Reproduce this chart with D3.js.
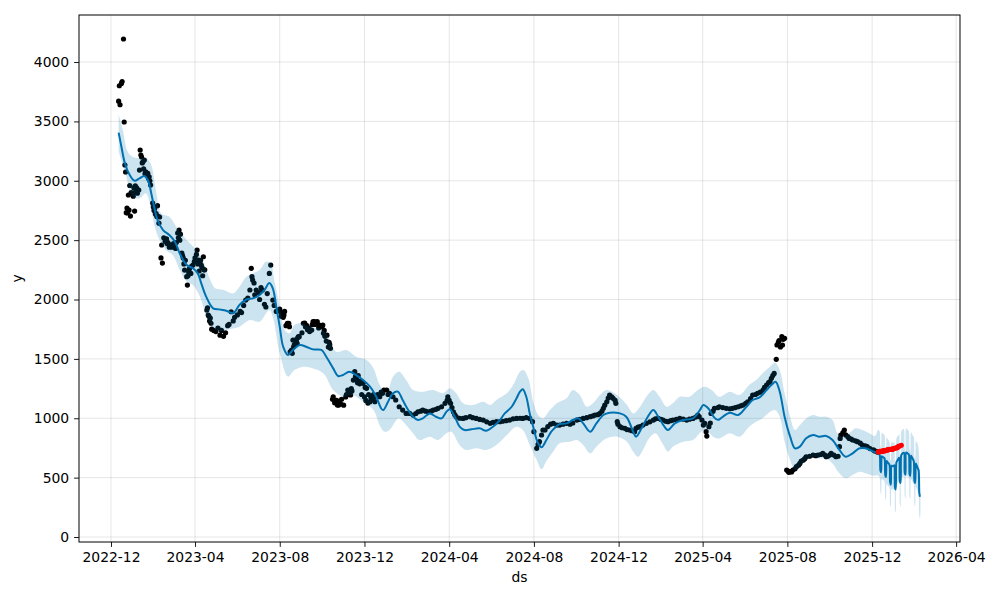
<!DOCTYPE html>
<html>
<head>
<meta charset="utf-8">
<script src="https://cdn.jsdelivr.net/npm/d3@7"></script>
<style>
  html, body { margin: 0; padding: 0; background: #fff; }
  svg { display: block; font-family: "DejaVu Sans", sans-serif; }
</style>
</head>
<body>
<svg id="chart" width="1000" height="600"></svg>
<script>
// ---------------- DATA ----------------
const yTicks = [0, 500, 1000, 1500, 2000, 2500, 3000, 3500, 4000];
const xTickLabels = ["2022-12", "2023-04", "2023-08", "2023-12", "2024-04", "2024-08",
                     "2024-12", "2025-04", "2025-08", "2025-12", "2026-04"];

// observed history (black dots)
const observed = [
["2022-12-12",3670],["2022-12-13",3800],["2022-12-14",3640],["2022-12-16",3820],["2022-12-17",3835],
["2022-12-19",4194],["2022-12-20",3495],["2022-12-21",3133],["2022-12-22",3074],["2022-12-23",2731],
["2022-12-24",2770],["2022-12-26",2880],["2022-12-27",2754],["2022-12-29",2703],["2023-01-01",2894],
["2023-01-02",2870],["2023-01-04",2745],["2023-01-05",2958],["2023-01-07",2940],["2023-01-10",2922],
["2023-01-11",3090],["2023-01-12",3259],["2023-01-13",3217],["2023-01-16",3160],["2023-01-18",3175],
["2023-01-20",3076],["2023-01-23",3062],["2023-01-25",3034],["2023-01-27",2964],["2023-01-30",2812],
["2023-02-02",2770],["2023-02-04",2723],["2023-02-06",2790],["2023-02-07",2700],["2023-02-08",2643],
["2023-02-11",2350],["2023-02-12",2459],["2023-02-13",2307],["2023-02-15",2520],["2023-02-17",2490],
["2023-02-20",2470],["2023-02-23",2440],["2023-02-26",2455],["2023-03-02",2450],["2023-03-04",2430],
["2023-03-07",2560],["2023-03-09",2585],["2023-03-10",2500],["2023-03-13",2391],["2023-03-15",2350],
["2023-03-17",2248],["2023-03-20",2192],["2023-03-21",2122],["2023-03-23",2230],["2023-03-26",2220],
["2023-03-29",2290],["2023-04-02",2333],["2023-04-04",2417],["2023-04-06",2333],["2023-04-08",2307],
["2023-04-10",2290],["2023-04-13",2360],["2023-04-15",2250],["2023-04-18",1911],["2023-04-20",1869],
["2023-04-23",1844],["2023-04-25",1750],["2023-04-28",1740],["2023-05-01",1730],["2023-05-04",1760],
["2023-05-07",1700],["2023-05-09",1740],["2023-05-12",1690],["2023-05-15",1720],["2023-05-18",1780],
["2023-05-20",1790],["2023-05-23",1897],["2023-05-26",1820],["2023-05-28",1850],["2023-06-01",1870],
["2023-06-05",1900],["2023-06-07",1890],["2023-06-10",1950],["2023-06-13",1995],["2023-06-16",2012],
["2023-06-19",2080],["2023-06-21",2263],["2023-06-22",2192],["2023-06-23",2164],["2023-06-25",2139],
["2023-06-26",2040],["2023-06-28",2080],["2023-07-01",2060],["2023-07-03",2000],["2023-07-05",2100],
["2023-07-07",2080],["2023-07-10",1960],["2023-07-12",1937],["2023-07-14",2050],["2023-07-17",2220],
["2023-07-19",2290],["2023-07-22",1995],["2023-07-24",1950],["2023-07-27",1900],["2023-08-01",1920],
["2023-08-03",1860],["2023-08-06",1850],["2023-08-08",1900],["2023-08-10",1780],["2023-08-12",1800],
["2023-08-15",1771],["2023-08-18",1575],["2023-08-20",1659],["2023-08-22",1620],["2023-08-25",1659],
["2023-08-27",1680],["2023-08-29",1687],["2023-09-02",1720],["2023-09-06",1802],["2023-09-09",1780],
["2023-09-12",1760],["2023-09-16",1743],["2023-09-20",1813],["2023-09-23",1800],["2023-09-26",1760],
["2023-10-02",1785],["2023-10-04",1740],["2023-10-07",1650],["2023-10-10",1600],["2023-10-13",1589],
["2023-10-17",1181],["2023-10-20",1150],["2023-10-23",1111],["2023-10-26",1130],["2023-10-29",1160],
["2023-11-01",1110],["2023-11-04",1180],["2023-11-07",1238],["2023-11-10",1200],["2023-11-12",1250],
["2023-11-15",1322],["2023-11-18",1350],["2023-11-21",1300],["2023-11-24",1290],["2023-11-27",1200],
["2023-12-01",1180],["2023-12-03",1150],["2023-12-06",1128],["2023-12-09",1140],["2023-12-12",1160],
["2023-12-14",1200],["2023-12-17",1180],["2023-12-20",1200],["2023-12-23",1181],["2023-12-27",1210],
["2024-01-02",1238],["2024-01-04",1200],["2024-01-06",1210],["2024-01-11",1181],["2024-01-15",1154],
["2024-01-20",1097],["2024-01-25",1069],["2024-01-30",1041],["2024-02-04",1041],["2024-02-09",1027],
["2024-02-13",1040],["2024-02-16",1055],["2024-02-20",1060],["2024-02-23",1069],["2024-02-27",1060],
["2024-03-02",1055],["2024-03-06",1060],["2024-03-09",1069],["2024-03-13",1075],["2024-03-16",1084],
["2024-03-21",1097],["2024-03-26",1126],["2024-03-29",1150],["2024-03-30",1181],["2024-04-01",1150],
["2024-04-03",1126],["2024-04-05",1090],["2024-04-07",1055],["2024-04-09",1030],["2024-04-11",1013],
["2024-04-16",1000],["2024-04-21",999],["2024-04-25",1005],["2024-05-01",1013],["2024-05-05",1005],
["2024-05-10",999],["2024-05-15",990],["2024-05-20",985],["2024-05-25",970],["2024-05-30",957],
["2024-06-03",965],["2024-06-08",971],["2024-06-13",971],["2024-06-17",975],["2024-06-22",980],
["2024-06-27",985],["2024-07-02",995],["2024-07-07",999],["2024-07-12",1000],["2024-07-16",999],
["2024-07-21",1005],["2024-07-26",999],["2024-07-30",971],["2024-08-01",887],["2024-08-05",747],
["2024-08-07",780],["2024-08-09",803],["2024-08-12",859],["2024-08-14",901],["2024-08-17",901],
["2024-08-21",930],["2024-08-25",950],["2024-08-29",957],["2024-09-03",943],["2024-09-07",943],
["2024-09-12",950],["2024-09-17",957],["2024-09-22",950],["2024-09-26",960],["2024-10-02",985],
["2024-10-06",990],["2024-10-11",999],["2024-10-16",1005],["2024-10-21",1013],["2024-10-25",1020],
["2024-10-28",1027],["2024-11-01",1030],["2024-11-04",1041],["2024-11-07",1060],["2024-11-09",1084],
["2024-11-11",1110],["2024-11-14",1139],["2024-11-16",1170],["2024-11-18",1196],["2024-11-21",1180],
["2024-11-23",1168],["2024-11-26",1150],["2024-11-27",1126],["2024-11-29",971],["2024-11-30",950],
["2024-12-03",929],["2024-12-06",920],["2024-12-10",915],["2024-12-13",905],["2024-12-17",901],
["2024-12-20",895],["2024-12-24",887],["2024-12-26",915],["2024-12-29",925],["2025-01-01",929],
["2025-01-05",943],["2025-01-10",957],["2025-01-15",970],["2025-01-20",985],["2025-01-23",995],
["2025-01-27",999],["2025-01-31",990],["2025-02-03",985],["2025-02-07",975],["2025-02-10",971],
["2025-02-14",980],["2025-02-17",985],["2025-02-22",990],["2025-02-27",999],["2025-03-04",992],
["2025-03-09",985],["2025-03-13",992],["2025-03-18",999],["2025-03-22",1010],["2025-03-25",1027],
["2025-03-27",1013],["2025-03-31",985],["2025-04-02",943],["2025-04-04",957],["2025-04-06",887],
["2025-04-07",850],["2025-04-10",929],["2025-04-12",960],["2025-04-13",1040],["2025-04-16",1060],
["2025-04-18",1084],["2025-04-23",1090],["2025-04-25",1097],["2025-04-30",1090],["2025-05-05",1084],
["2025-05-10",1080],["2025-05-14",1084],["2025-05-18",1090],["2025-05-22",1097],["2025-05-26",1105],
["2025-05-29",1111],["2025-06-02",1125],["2025-06-05",1139],["2025-06-09",1165],["2025-06-12",1196],
["2025-06-16",1200],["2025-06-19",1210],["2025-06-23",1220],["2025-06-27",1238],["2025-06-29",1260],
["2025-07-02",1280],["2025-07-05",1300],["2025-07-07",1308],["2025-07-09",1336],["2025-07-11",1360],
["2025-07-13",1378],["2025-07-16",1496],["2025-07-17",1617],["2025-07-19",1640],["2025-07-20",1653],
["2025-07-22",1600],["2025-07-24",1687],["2025-07-25",1617],["2025-07-26",1665],["2025-07-28",1673],
["2025-07-31",564],["2025-08-02",555],["2025-08-03",545],["2025-08-05",550],["2025-08-07",548],
["2025-08-09",564],["2025-08-12",575],["2025-08-14",592],["2025-08-17",605],["2025-08-19",620],
["2025-08-21",640],["2025-08-24",648],["2025-08-26",660],["2025-08-28",676],["2025-09-02",680],
["2025-09-07",690],["2025-09-11",685],["2025-09-14",690],["2025-09-18",695],["2025-09-21",705],
["2025-09-24",690],["2025-09-26",676],["2025-09-28",680],["2025-10-01",690],["2025-10-03",705],
["2025-10-07",690],["2025-10-10",676],["2025-10-13",680],["2025-10-15",761],["2025-10-16",830],
["2025-10-17",859],["2025-10-20",880],["2025-10-22",901],["2025-10-24",860],["2025-10-27",845],
["2025-10-29",830],["2025-11-01",825],["2025-11-03",817],["2025-11-07",810],["2025-11-10",803],
["2025-11-14",790],["2025-11-17",775],["2025-11-21",768],["2025-11-24",761],["2025-11-28",745],
["2025-12-03",733],["2025-12-05",725],["2025-12-08",719],["2025-12-09",715],
// additional readings in the dense clusters
["2022-12-25",2729],["2022-12-28",2960],["2022-12-30",2900],["2023-01-03",2940],["2023-01-06",2920],
["2023-01-08",2895],["2023-01-14",3200],["2023-01-15",3150],["2023-01-17",3100],["2023-01-19",3060],
["2023-01-21",3050],["2023-01-24",3020],["2023-01-26",3000],["2023-01-31",2780],["2023-02-01",2750],
["2023-02-03",2720],["2023-02-05",2700],["2023-02-09",2695],["2023-02-19",2510],["2023-02-21",2480],
["2023-02-24",2460],["2023-02-27",2440],["2023-03-01",2470],["2023-03-05",2480],["2023-03-08",2520],
["2023-03-11",2550],["2023-03-14",2370],["2023-03-16",2300],["2023-03-18",2330],["2023-03-22",2200],
["2023-03-24",2260],["2023-03-27",2280],["2023-03-31",2320],["2023-04-01",2350],["2023-04-03",2380],
["2023-04-05",2300],["2023-04-07",2240],["2023-04-09",2330],["2023-04-11",2270],["2023-04-12",2200],
["2023-04-14",2250],["2023-04-19",1930],["2023-04-21",1860],["2023-04-22",1820],["2023-04-24",1800],
["2023-08-02",1897],["2023-08-07",1869],["2023-08-14",1800],["2023-08-16",1560],["2023-08-19",1547],
["2023-08-21",1602],["2023-08-23",1659],["2023-08-26",1631],["2023-08-28",1687],["2023-09-04",1800],
["2023-09-07",1770],["2023-09-10",1745],["2023-09-13",1730],["2023-09-17",1790],["2023-09-18",1813],
["2023-09-21",1790],["2023-09-24",1813],["2023-09-27",1785],["2023-10-01",1771],["2023-10-03",1715],
["2023-10-05",1690],["2023-10-08",1700],["2023-10-11",1640],["2023-10-12",1620],["2023-10-16",1160],
["2023-10-19",1130],["2023-10-22",1150],["2023-10-25",1111],["2023-10-28",1120],["2023-11-05",1200],
["2023-11-08",1220],["2023-11-11",1196],["2023-11-13",1230],["2023-11-17",1392],["2023-11-20",1330],
["2023-11-22",1360],["2023-11-25",1310],["2023-11-29",1294],["2023-12-02",1260],["2023-12-04",1252],
["2023-12-07",1200],["2023-12-10",1180],["2023-12-13",1160],["2023-12-16",1139],["2023-12-25",1220],
["2023-12-29",1238]
];

// held-out actuals (red dots)
const actualDates = ["2025-12-10","2025-12-11","2025-12-12","2025-12-15","2025-12-16","2025-12-17",
  "2025-12-18","2025-12-19","2025-12-22","2025-12-23","2025-12-24","2025-12-26","2025-12-29",
  "2025-12-30","2025-12-31","2026-01-02","2026-01-05","2026-01-06","2026-01-07","2026-01-08",
  "2026-01-09","2026-01-12"];
const actualValues = [718,716,721,723,720,726,728,725,731,733,735,738,740,737,743,746,750,753,757,762,766,772];

// fitted yhat over history
const fitYhat = [
["2022-12-12",3405],["2022-12-16",3287],["2022-12-21",3147],["2022-12-28",3048],["2023-01-04",3000],
["2023-01-11",3020],["2023-01-18",3040],["2023-01-23",3006],["2023-01-30",2838],["2023-02-06",2669],
["2023-02-14",2585],["2023-02-23",2543],["2023-03-03",2487],["2023-03-10",2389],["2023-03-20",2290],
["2023-03-29",2263],["2023-04-05",2220],["2023-04-10",2136],["2023-04-17",2024],["2023-04-27",1926],
["2023-05-06",1917],["2023-05-16",1906],["2023-05-26",1884],["2023-06-04",1954],["2023-06-14",2000],
["2023-06-23",2010],["2023-07-03",2038],["2023-07-10",2080],["2023-07-17",2139],["2023-07-22",2094],
["2023-07-27",1939],["2023-08-01",1771],["2023-08-06",1602],["2023-08-13",1533],["2023-08-20",1575],
["2023-08-30",1617],["2023-09-08",1602],["2023-09-18",1580],["2023-09-30",1575],["2023-10-07",1518],
["2023-10-17",1420],["2023-10-24",1356],["2023-10-31",1364],["2023-11-09",1392],["2023-11-19",1364],
["2023-11-29",1322],["2023-12-09",1266],["2023-12-18",1181],["2023-12-25",1084],["2023-12-28",1069],
["2024-01-04",1140],["2024-01-11",1210],["2024-01-18",1224],["2024-01-25",1154],["2024-02-02",1069],
["2024-02-09",1013],["2024-02-16",985],["2024-02-23",999],["2024-03-04",1041],["2024-03-13",1013],
["2024-03-21",999],["2024-03-28",1055],["2024-04-02",1075],["2024-04-09",1013],["2024-04-16",929],
["2024-04-23",901],["2024-05-03",907],["2024-05-15",915],["2024-05-24",895],["2024-06-03",929],
["2024-06-13",985],["2024-06-20",1041],["2024-06-30",1097],["2024-07-07",1168],["2024-07-12",1224],
["2024-07-16",1244],["2024-07-21",1181],["2024-07-26",1041],["2024-07-31",929],["2024-08-07",789],
["2024-08-12",755],["2024-08-19",817],["2024-08-26",887],["2024-09-03",935],["2024-09-07",952],
["2024-09-17",957],["2024-09-26",985],["2024-10-04",999],["2024-10-11",957],["2024-10-21",887],
["2024-10-30",957],["2024-11-09",1027],["2024-11-18",1047],["2024-12-03",1041],["2024-12-12",1013],
["2024-12-22",887],["2024-12-26",845],["2025-01-03",915],["2025-01-12",1013],["2025-01-20",1069],
["2025-01-27",1013],["2025-02-05",929],["2025-02-10",901],["2025-02-20",957],["2025-03-04",985],
["2025-03-18",999],["2025-03-28",1069],["2025-04-02",1111],["2025-04-09",1084],["2025-04-16",1020],
["2025-04-21",991],["2025-04-25",990],["2025-04-30",1013],["2025-05-10",1047],["2025-05-22",1027],
["2025-06-03",1097],["2025-06-12",1154],["2025-06-22",1176],["2025-07-02",1238],["2025-07-09",1280],
["2025-07-15",1308],["2025-07-21",1224],["2025-07-28",1013],["2025-08-05",845],["2025-08-12",747],
["2025-08-19",761],["2025-08-28",831],["2025-09-07",859],["2025-09-16",845],["2025-09-26",851],
["2025-10-05",817],["2025-10-15",733],["2025-10-24",676],["2025-11-03",705],["2025-11-13",747],
["2025-11-22",747],["2025-12-03",719]
];
const fitUpper = [
["2022-12-12",3560],["2022-12-18",3427],["2022-12-25",3245],["2023-01-01",3203],["2023-01-11",3190],
["2023-01-20",3189],["2023-01-27",3147],["2023-02-04",2908],["2023-02-11",2726],["2023-02-23",2697],
["2023-03-05",2613],["2023-03-20",2501],["2023-04-03",2417],["2023-04-13",2318],["2023-04-23",2164],
["2023-04-30",2094],["2023-05-12",2080],["2023-05-26",2052],["2023-06-04",2108],["2023-06-14",2192],
["2023-06-23",2220],["2023-07-03",2248],["2023-07-12",2318],["2023-07-19",2305],["2023-07-24",2164],
["2023-08-01",1939],["2023-08-08",1743],["2023-08-15",1715],["2023-08-22",1785],["2023-09-01",1800],
["2023-09-13",1771],["2023-09-27",1757],["2023-10-07",1715],["2023-10-21",1560],["2023-11-05",1575],
["2023-11-19",1518],["2023-12-04",1490],["2023-12-14",1420],["2023-12-23",1280],["2024-01-02",1210],
["2024-01-11",1350],["2024-01-20",1392],["2024-01-30",1322],["2024-02-09",1238],["2024-02-23",1224],
["2024-03-09",1238],["2024-03-23",1210],["2024-04-02",1252],["2024-04-11",1210],["2024-04-21",1126],
["2024-05-05",1111],["2024-05-20",1139],["2024-05-30",1111],["2024-06-08",1154],["2024-06-23",1210],
["2024-07-02",1280],["2024-07-12",1392],["2024-07-17",1406],["2024-07-24",1336],["2024-07-31",1139],
["2024-08-07",1027],["2024-08-14",999],["2024-08-24",1069],["2024-09-03",1126],["2024-09-07",1139],
["2024-09-17",1168],["2024-09-26",1238],["2024-10-06",1196],["2024-10-16",1097],["2024-10-25",1126],
["2024-11-04",1196],["2024-11-14",1238],["2024-11-29",1196],["2024-12-13",1111],["2024-12-22",1041],
["2025-01-01",1097],["2025-01-10",1181],["2025-01-20",1238],["2025-01-29",1181],["2025-02-08",1097],
["2025-02-17",1126],["2025-02-27",1181],["2025-03-13",1181],["2025-03-25",1238],["2025-04-04",1266],
["2025-04-14",1238],["2025-04-25",1181],["2025-05-10",1224],["2025-05-24",1196],["2025-06-07",1280],
["2025-06-17",1322],["2025-06-26",1378],["2025-07-07",1434],["2025-07-14",1468],["2025-07-21",1406],
["2025-07-28",1210],["2025-08-05",1013],["2025-08-12",901],["2025-08-19",943],["2025-08-28",999],
["2025-09-07",1027],["2025-09-16",1013],["2025-09-26",1013],["2025-10-05",985],["2025-10-12",873],
["2025-10-19",845],["2025-10-29",873],["2025-11-07",915],["2025-11-17",901],["2025-11-27",873],
["2025-12-05",850]
];
const fitLower = [
["2022-12-12",3250],["2022-12-23",3034],["2023-01-01",2866],["2023-01-11",2852],["2023-01-20",2894],
["2023-01-27",2781],["2023-02-02",2613],["2023-02-09",2501],["2023-02-18",2417],["2023-02-28",2375],
["2023-03-10",2248],["2023-03-20",2150],["2023-03-29",2122],["2023-04-08",2024],["2023-04-18",1850],
["2023-04-27",1760],["2023-05-06",1730],["2023-05-20",1750],["2023-06-04",1771],["2023-06-19",1827],
["2023-07-03",1813],["2023-07-17",1911],["2023-07-22",1855],["2023-08-01",1547],["2023-08-13",1350],
["2023-08-22",1406],["2023-09-04",1434],["2023-09-18",1420],["2023-10-03",1378],["2023-10-17",1238],
["2023-10-31",1181],["2023-11-14",1196],["2023-11-29",1139],["2023-12-14",1069],["2023-12-23",940],
["2023-12-30",887],["2024-01-06",901],["2024-01-16",985],["2024-01-20",999],["2024-01-30",943],
["2024-02-09",873],["2024-02-18",817],["2024-03-04",845],["2024-03-16",817],["2024-03-28",873],
["2024-04-04",887],["2024-04-16",775],["2024-04-25",733],["2024-05-10",747],["2024-05-24",733],
["2024-06-08",775],["2024-06-23",859],["2024-07-07",929],["2024-07-16",901],["2024-07-26",775],
["2024-08-05",648],["2024-08-12",570],["2024-08-19",640],["2024-08-29",720],["2024-09-07",790],
["2024-09-22",803],["2024-10-02",817],["2024-10-11",775],["2024-10-21",705],["2024-10-30",761],
["2024-11-14",831],["2024-11-29",845],["2024-12-13",803],["2024-12-22",719],["2024-12-29",676],
["2025-01-05",733],["2025-01-14",831],["2025-01-23",873],["2025-02-02",789],["2025-02-10",719],
["2025-02-17",761],["2025-03-04",803],["2025-03-18",817],["2025-03-30",887],["2025-04-06",901],
["2025-04-16",845],["2025-04-25",830],["2025-05-10",873],["2025-05-24",845],["2025-06-07",929],
["2025-06-17",971],["2025-06-26",999],["2025-07-07",1055],["2025-07-14",1069],["2025-07-21",1013],
["2025-07-28",803],["2025-08-05",648],["2025-08-12",564],["2025-08-19",592],["2025-08-28",648],
["2025-09-07",676],["2025-09-16",662],["2025-09-26",662],["2025-10-05",620],["2025-10-15",536],
["2025-10-24",494],["2025-11-03",522],["2025-11-13",550],["2025-11-22",536],["2025-12-03",515]
];

// daily forecast, 2025-12-09 .. 2026-02-08
const futureStart = "2025-12-09";
const futureYhat = [705,700,698,690,560,545,
  680,675,672,668,660,520,505,
  640,632,625,618,610,460,440,
  600,598,596,598,605,415,400,
  630,640,650,660,668,470,455,
  690,698,705,708,710,540,525,
  712,710,706,700,694,530,515,
  685,676,665,652,640,470,455,
  620,605,590,575,560,370,340];
const futureUpper = [900,905,895,890,770,750,
  880,875,865,868,855,720,700,
  840,830,822,815,805,665,640,
  800,802,792,795,805,615,600,
  830,845,850,858,870,675,660,
  890,900,905,912,905,745,722,
  915,912,905,900,890,738,720,
  882,875,862,850,845,672,660,
  815,800,790,775,740,590,545];
const futureLower = [520,515,510,500,380,360,
  490,485,480,475,465,330,310,
  450,440,430,425,415,270,250,
  405,400,400,405,410,225,205,
  440,445,455,465,470,275,255,
  495,500,505,510,515,345,325,
  520,515,510,505,495,335,320,
  490,480,470,455,445,275,255,
  425,410,395,380,360,180,155];

// ---------------- CHART ----------------
const parse = d3.utcParse("%Y-%m-%d");
const svg = d3.select("#chart");
const L = 79, R = 960, T = 15, B = 542;

const x = d3.scaleUtc()
  .domain([new Date(Date.UTC(2022, 9, 15, 22)), new Date(Date.UTC(2026, 3, 6, 14))])
  .range([L, R]);
const y = d3.scaleLinear().domain([-42, 4396]).range([B, T]);

// grid
const tickDates = xTickLabels.map(s => d3.utcParse("%Y-%m")(s));
const grid = svg.append("g");
grid.selectAll("line.gx").data(tickDates).enter().append("line")
  .attr("x1", d => x(d)).attr("x2", d => x(d)).attr("y1", T).attr("y2", B)
  .attr("stroke", "rgba(128,128,128,0.2)").attr("stroke-width", 1);
grid.selectAll("line.gy").data(yTicks).enter().append("line")
  .attr("x1", L).attr("x2", R).attr("y1", d => y(d)).attr("y2", d => y(d))
  .attr("stroke", "rgba(128,128,128,0.2)").attr("stroke-width", 1);

svg.append("defs").append("clipPath").attr("id", "clip")
  .append("rect").attr("x", L).attr("y", T).attr("width", R - L).attr("height", B - T);
const plot = svg.append("g").attr("clip-path", "url(#clip)");

// observed dots
plot.append("g").selectAll("circle").data(observed).enter().append("circle")
  .attr("cx", d => x(parse(d[0]))).attr("cy", d => y(d[1])).attr("r", 2.6).attr("fill", "#000");

// forecast series
const futDates = d3.utcDay.range(parse(futureStart), d3.utcDay.offset(parse(futureStart), futureYhat.length));
const yhatPts = fitYhat.map(d => [parse(d[0]), d[1]])
  .concat(futDates.map((dt, i) => [dt, futureYhat[i]]));
const upperPts = fitUpper.map(d => [parse(d[0]), d[1]])
  .concat(futDates.map((dt, i) => [dt, futureUpper[i]]));
const lowerPts = fitLower.map(d => [parse(d[0]), d[1]])
  .concat(futDates.map((dt, i) => [dt, futureLower[i]]));

const lineGen = d3.line().x(d => x(d[0])).y(d => y(d[1])).curve(d3.curveCatmullRom.alpha(0.5));
plot.append("path").attr("d", lineGen(yhatPts))
  .attr("fill", "none").attr("stroke", "#0072B2").attr("stroke-width", 2);

const bandPts = upperPts.concat(lowerPts.slice().reverse());
plot.append("path").attr("d", lineGen(bandPts) + "Z")
  .attr("fill", "#0072B2").attr("fill-opacity", 0.2).attr("stroke", "none");

// red actuals
plot.append("g").selectAll("circle").data(actualDates).enter().append("circle")
  .attr("cx", d => x(parse(d))).attr("cy", (d, i) => y(actualValues[i])).attr("r", 2.6).attr("fill", "#ff0000");

// axes
const fs = "13.9px";
const xAxis = d3.axisBottom(x).tickValues(tickDates).tickFormat(d3.utcFormat("%Y-%m"))
  .tickSize(4.9).tickPadding(4.9);
const gx = svg.append("g").attr("transform", `translate(0,${B})`).call(xAxis);
const yAxis = d3.axisLeft(y).tickValues(yTicks).tickFormat(d3.format("d")).tickSize(4.9).tickPadding(4.9);
const gy = svg.append("g").attr("transform", `translate(${L},0)`).call(yAxis);
[gx, gy].forEach(g => {
  g.select(".domain").remove();
  g.selectAll("text").attr("font-size", fs).attr("font-family", "DejaVu Sans").attr("fill", "#000");
  g.selectAll("line").attr("stroke", "#000").attr("stroke-width", 0.9);
});

// frame
svg.append("rect").attr("x", L).attr("y", T).attr("width", R - L).attr("height", B - T)
  .attr("fill", "none").attr("stroke", "#000").attr("stroke-width", 1);

// labels
svg.append("text").attr("x", (L + R) / 2).attr("y", 582).attr("text-anchor", "middle")
  .attr("font-size", fs).text("ds");
svg.append("text").attr("transform", `translate(22,${(T + B) / 2}) rotate(-90)`)
  .attr("text-anchor", "middle").attr("font-size", fs).text("y");
</script>
</body>
</html>
